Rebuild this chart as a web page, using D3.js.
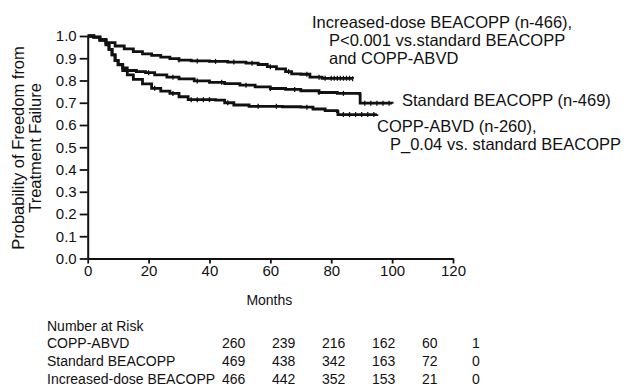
<!DOCTYPE html>
<html>
<head>
<meta charset="utf-8">
<script src="https://cdn.jsdelivr.net/npm/d3@7"></script>
<style>
  body { margin: 0; background: #fff; }
  text { font-family: "Liberation Sans", Arial, sans-serif; fill: #111; }
</style>
</head>
<body>
<script>
// step curves: [month, probability]
const increasedDose = [
  [0, 1.0], [2, 0.995], [4, 0.98], [6, 0.97], [9, 0.955], [12, 0.942], [15, 0.93],
  [18, 0.92], [21, 0.913], [24, 0.905], [27, 0.898], [30, 0.892], [34, 0.888],
  [40, 0.886], [46, 0.883], [52, 0.878], [56, 0.872], [59, 0.862], [62, 0.852],
  [65, 0.84], [67, 0.83], [70, 0.828], [73, 0.815], [77, 0.81], [87, 0.808]
];
const standard = [
  [0, 1.0], [2, 0.995], [4, 0.982], [6, 0.965], [7, 0.94], [8, 0.915], [9, 0.89],
  [10, 0.872], [11.5, 0.857], [13, 0.845], [16, 0.84], [19, 0.835], [22, 0.825],
  [26, 0.815], [30, 0.807], [35, 0.798], [40, 0.792], [45, 0.786], [50, 0.779],
  [55, 0.771], [60, 0.764], [65, 0.76], [70, 0.754], [76, 0.746], [82, 0.742],
  [89.4, 0.738], [89.5, 0.698], [100, 0.695]
];
const coppAbvd = [
  [0, 1.0], [2, 0.995], [4, 0.985], [6, 0.96], [7, 0.94], [8, 0.915], [9, 0.89],
  [10, 0.87], [11.5, 0.845], [13, 0.825], [15, 0.805], [18, 0.785], [21, 0.765],
  [24, 0.752], [27, 0.742], [30, 0.727], [33, 0.714], [42, 0.712], [45, 0.7],
  [48, 0.69], [53, 0.684], [64, 0.682], [70, 0.68], [74, 0.672], [78, 0.665],
  [82, 0.66], [82.2, 0.647], [95, 0.648]
];
const censorIncreased = [30, 36, 42, 48, 54, 60, 66, 72, 76, 78, 80, 81, 82, 83, 84, 85, 86, 87];
const censorStandard = [20, 28, 36, 44, 52, 60, 68, 76, 84, 91, 93, 95, 97, 99];
const censorCopp = [22, 28, 34, 36, 38, 40, 46, 56, 62, 72, 84, 86, 88, 90, 92, 94];

const yTicks = [0, 0.1, 0.2, 0.3, 0.4, 0.5, 0.6, 0.7, 0.8, 0.9, 1.0];
const xTicks = [0, 20, 40, 60, 80, 100, 120];

const riskGroups = ["COPP-ABVD", "Standard BEACOPP", "Increased-dose BEACOPP"];
const riskCopp = [260, 239, 216, 162, 60, 1];
const riskStandard = [469, 438, 342, 163, 72, 0];
const riskIncreased = [466, 442, 352, 153, 21, 0];

const svg = d3.select("body").append("svg")
  .attr("width", 628)
  .attr("height", 387);

const x = d3.scaleLinear().domain([0, 120]).range([87.7, 453]);
const y = d3.scaleLinear().domain([0, 1]).range([258.5, 36]);

// axes
const yAxis = svg.append("g")
  .attr("transform", "translate(" + x(0) + ",0)")
  .call(d3.axisLeft(y).tickValues(yTicks).tickFormat(d3.format(".1f"))
    .tickSize(8).tickSizeOuter(0).tickPadding(3));
const xAxis = svg.append("g")
  .attr("transform", "translate(0," + y(0) + ")")
  .call(d3.axisBottom(x).tickValues(xTicks).tickSize(5).tickSizeOuter(0).tickPadding(2));

[yAxis, xAxis].forEach(g => {
  g.select(".domain").attr("stroke", "#111").attr("stroke-width", 2);
  g.selectAll(".tick line").attr("stroke", "#111").attr("stroke-width", 1.8);
  g.selectAll(".tick text").attr("font-size", 15).attr("font-family", "Liberation Sans, Arial, sans-serif").attr("fill", "#111");
});

// curves
const line = d3.line()
  .x(d => x(d[0]))
  .y(d => y(d[1]))
  .curve(d3.curveStepAfter);

function stepValue(series, t) {
  let v = series[0][1];
  series.forEach(d => { if (d[0] <= t) v = d[1]; });
  return v;
}

[[coppAbvd, censorCopp], [standard, censorStandard], [increasedDose, censorIncreased]].forEach(([s, c]) => {
  svg.append("path")
    .datum(s)
    .attr("fill", "none")
    .attr("stroke", "#111")
    .attr("stroke-width", 2.8)
    .attr("d", line);
  svg.append("g").selectAll("line")
    .data(c)
    .join("line")
    .attr("x1", d => x(d)).attr("x2", d => x(d))
    .attr("y1", d => y(stepValue(s, d)) - 2.5)
    .attr("y2", d => y(stepValue(s, d)) + 2.5)
    .attr("stroke", "#111")
    .attr("stroke-width", 1.3);
});

// axis titles
svg.append("text")
  .attr("x", x(60) - 1).attr("y", 305)
  .attr("text-anchor", "middle")
  .attr("font-size", 14)
  .text("Months");

const yl = svg.append("text")
  .attr("transform", "translate(24,148) rotate(-90)")
  .attr("text-anchor", "middle")
  .attr("font-size", 16.5);
yl.append("tspan").attr("x", 0).attr("dy", 0).text("Probability of Freedom from");
yl.append("tspan").attr("x", 0).attr("dy", 17).text("Treatment Failure");

// curve annotations
const notes = [
  { x: 312, y: 28, t: "Increased-dose BEACOPP (n-466)," },
  { x: 329, y: 46, t: "P<0.001 vs.standard BEACOPP" },
  { x: 329, y: 64, t: "and COPP-ABVD" },
  { x: 402, y: 106, t: "Standard BEACOPP (n-469)" },
  { x: 377, y: 132, t: "COPP-ABVD (n-260)," },
  { x: 390, y: 150, t: "P_0.04 vs. standard BEACOPP" }
];
svg.append("g").selectAll("text")
  .data(notes)
  .join("text")
  .attr("x", d => d.x).attr("y", d => d.y)
  .attr("font-size", 16.5)
  .text(d => d.t);

// number at risk table
const col = d3.scalePoint().domain(d3.range(6)).range([222, 472]);
const rowY = d3.scalePoint().domain(riskGroups).range([348, 384]);

svg.append("text").attr("x", 47).attr("y", 331).attr("font-size", 14).text("Number at Risk");

[riskCopp, riskStandard, riskIncreased].forEach((vals, i) => {
  const g = riskGroups[i];
  svg.append("text").attr("x", 47).attr("y", rowY(g)).attr("font-size", 14).text(g);
  svg.append("g").selectAll("text")
    .data(vals)
    .join("text")
    .attr("x", (d, j) => col(j))
    .attr("y", rowY(g))
    .attr("font-size", 14)
    .text(d => d);
});
</script>
</body>
</html>
